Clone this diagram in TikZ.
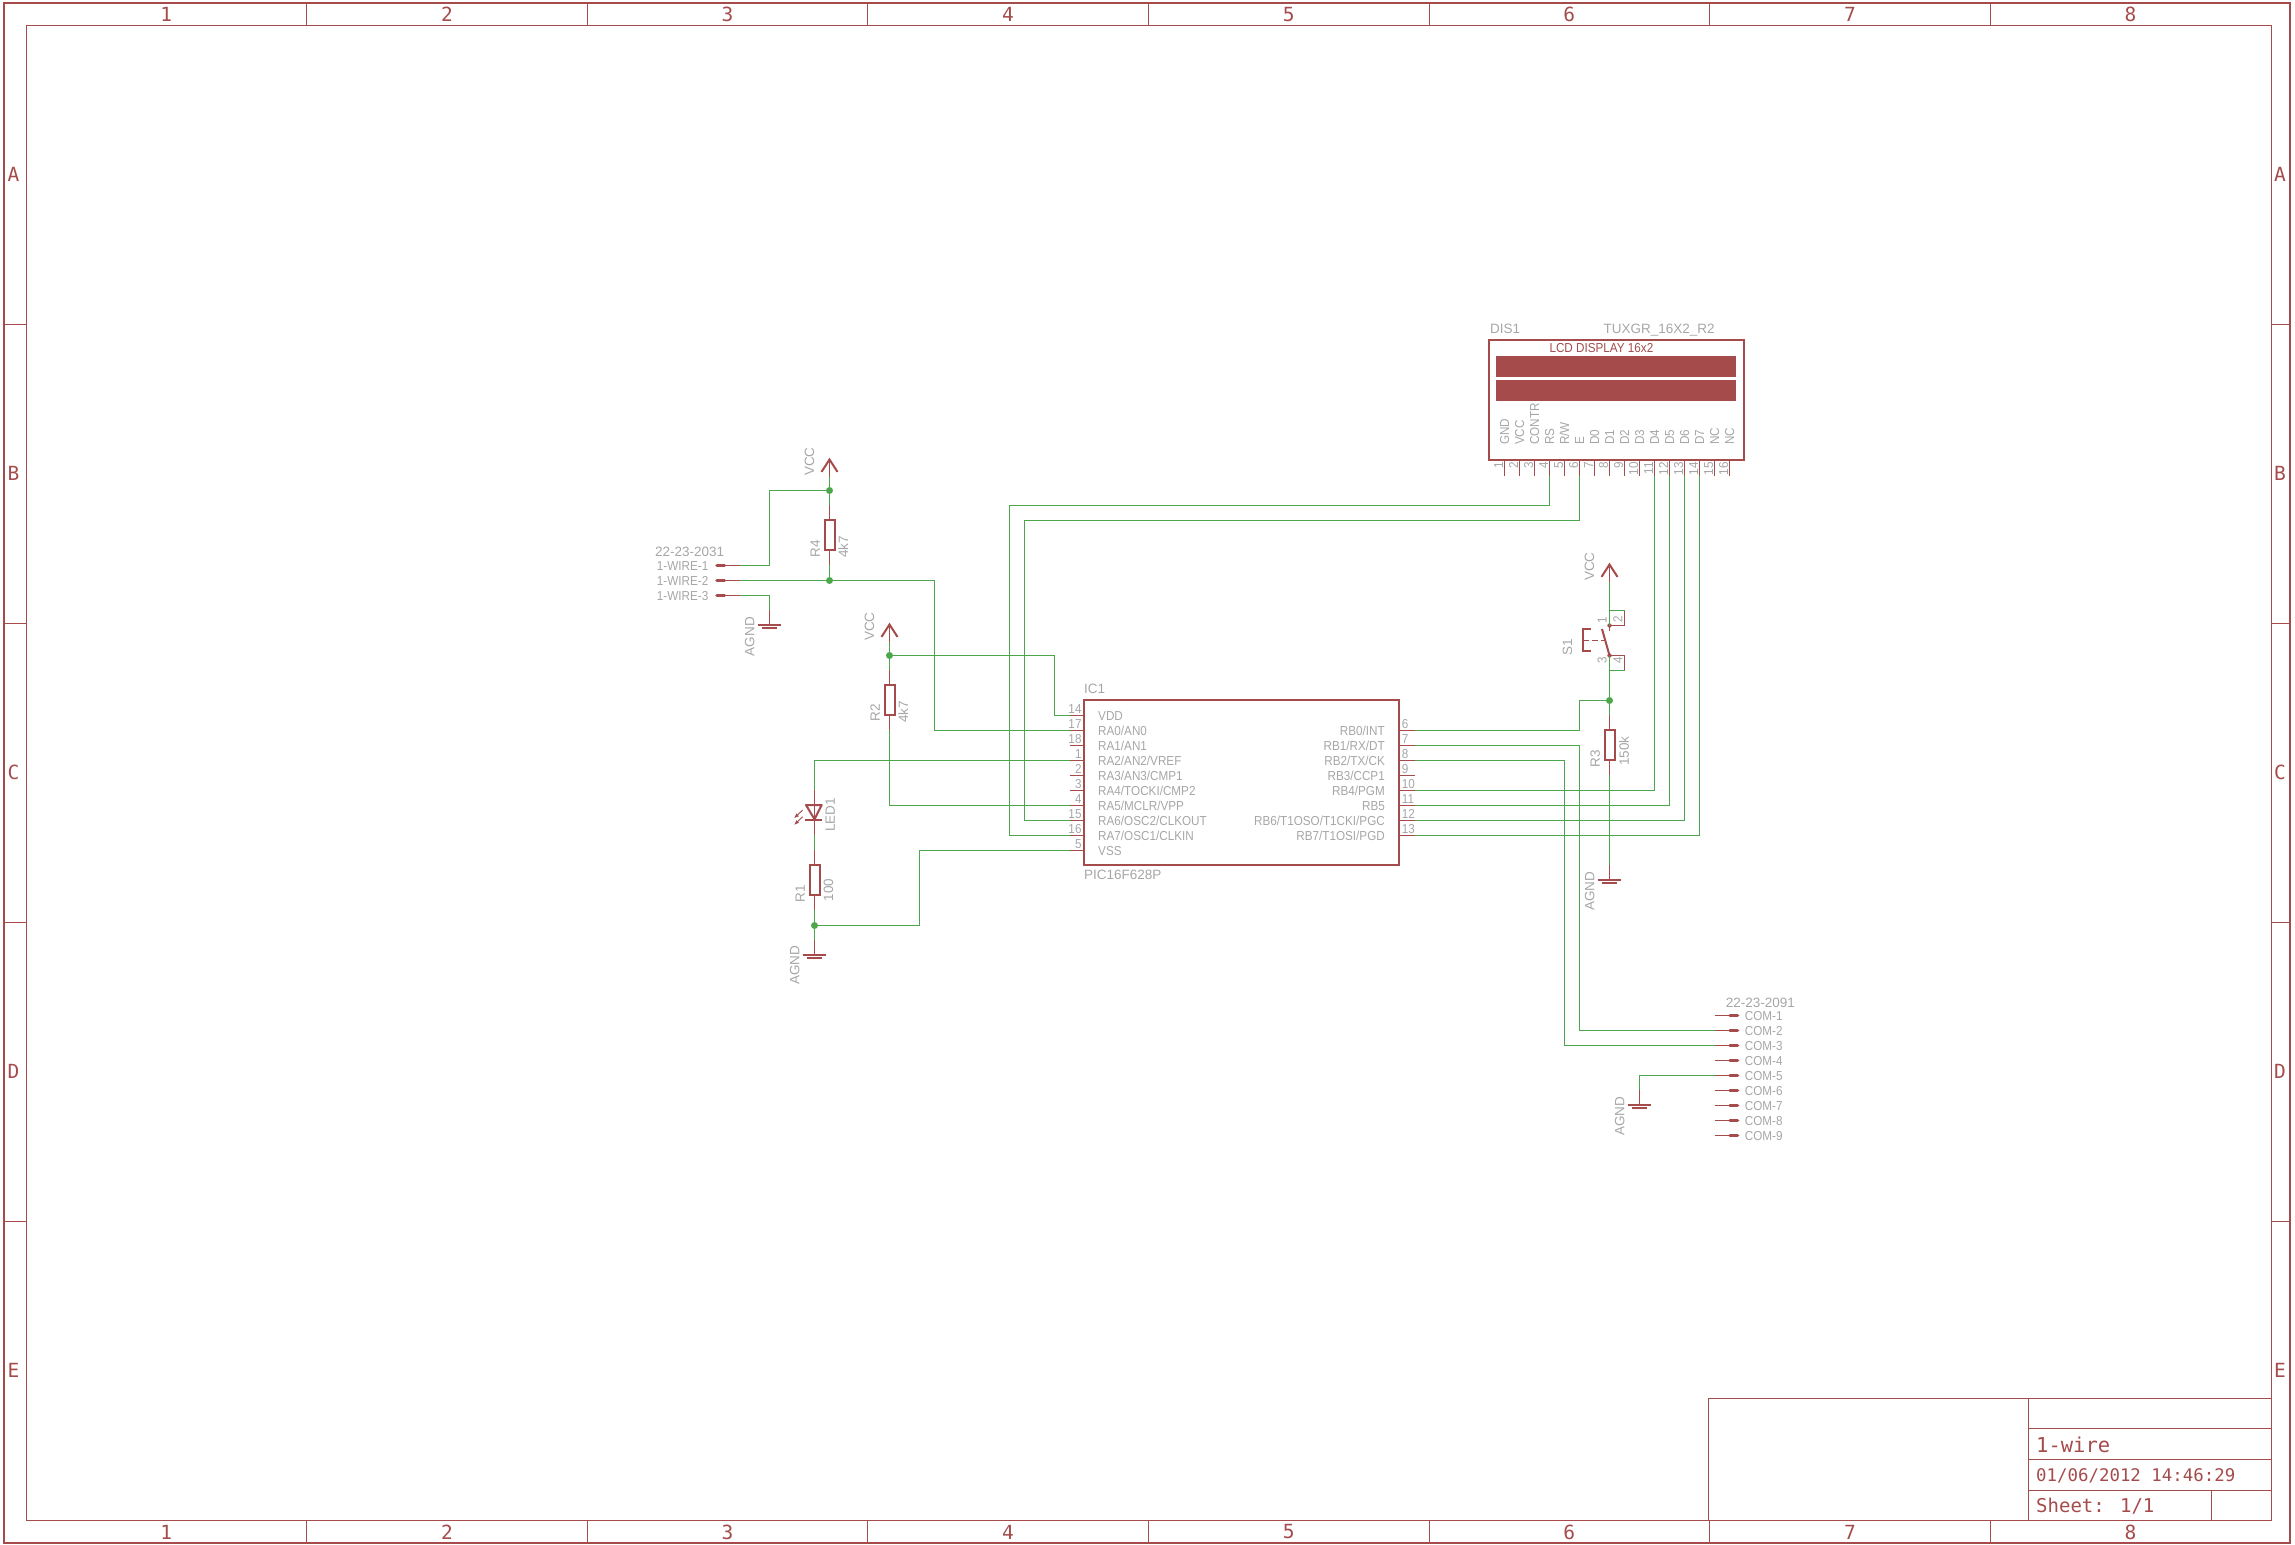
\documentclass[tikz,border=0pt]{standalone}
\usepackage{fontspec}
\setmainfont{Liberation Sans}
\newfontfamily\framefont{DejaVu Sans Mono}
\newfontfamily\pinfont[FakeStretch=0.9]{Liberation Sans}
\usetikzlibrary{positioning,arrows.meta,calc}
\definecolor{schred}{HTML}{A54B4B}
\definecolor{schgreen}{HTML}{4CA64C}
\definecolor{schgray}{HTML}{A6A6A6}
\tikzset{
  wire/.style={draw=schgreen,line width=1pt},
  lead/.style={draw=schred,line width=1pt},
  body/.style={draw=schred,line width=2pt},
  pad/.style={draw=schred,line width=3.6pt,line cap=round},
  frameline/.style={draw=schred,line width=1pt},
  junction/.style={circle,fill=schgreen,inner sep=0pt,minimum size=7pt},
  resbox/.style={draw=schred,line width=2pt,fill=white,inner sep=0pt,minimum width=10pt,minimum height=30pt},
  pinname/.style={font=\pinfont\fontsize{13}{13}\selectfont,text=schgray,inner sep=0pt,text height=9.3pt,text depth=0pt},
  devname/.style={font=\fontsize{13.5}{14}\selectfont,text=schgray,inner sep=0pt,text height=9.7pt,text depth=0pt},
  framemark/.style={font=\framefont\fontsize{19.5}{20}\selectfont,text=schred,inner sep=0pt},
  titletext/.style={font=\framefont\fontsize{17.4}{18}\selectfont,text=schred,inner sep=0pt,anchor=west},
}

\begin{document}
\begin{tikzpicture}[x=1pt,y=-1pt]
            \useasboundingbox (0,0) rectangle (2295,1545);
            % sheet frame
            \draw[schred,line width=2pt] (4,3) rectangle (2290,1543);
            \draw[frameline] (26.5,25.5) rectangle (2271.5,1520.5);
            \foreach \i in {1,...,7} {
              \draw[frameline] ({floor(26+280.6*\i)+0.5},3) -- ({floor(26+280.6*\i)+0.5},25.5);
              \draw[frameline] ({floor(26+280.6*\i)+0.5},1520.5) -- ({floor(26+280.6*\i)+0.5},1543);
            }
            \foreach \i in {1,...,4} {
              \draw[frameline] (4,{25.5+299*\i}) -- (26.5,{25.5+299*\i});
              \draw[frameline] (2271.5,{25.5+299*\i}) -- (2290,{25.5+299*\i});
            }
            \foreach \i in {1,...,8} {
              \node[framemark] (coltop\i) at ({26+280.6*(\i-0.5)},14.5) {\i};
              \node[framemark] (colbot\i) at ({26+280.6*(\i-0.5)},1532) {\i};
            }
            \foreach \c/\i in {A/1,B/2,C/3,D/4,E/5} {
              \node[framemark] (rowl\c) at (13.5,{25+299*(\i-0.5)}) {\c};
              \node[framemark] (rowr\c) at (2280,{25+299*(\i-0.5)}) {\c};
            }
            % title block
            \draw[frameline] (1708.5,1520.5) -- (1708.5,1398.5) -- (2271.5,1398.5);
            \draw[frameline] (2028.5,1398.5) -- (2028.5,1520.5);
            \draw[frameline] (2028.5,1428.5) -- (2271.5,1428.5);
            \draw[frameline] (2028.5,1459.5) -- (2271.5,1459.5);
            \draw[frameline] (2028.5,1490.5) -- (2271.5,1490.5);
            \draw[frameline] (2211.5,1490.5) -- (2211.5,1520.5);
            \node[titletext,font=\framefont\fontsize{20.5}{21}\selectfont] (sheetname) at (2036,1445) {1-wire};
            \node[titletext] (sheetdate) at (2036,1475.5) {01/06/2012 14:46:29};
            \node[titletext,font=\framefont\fontsize{19}{20}\selectfont] (sheetnum) at (2036,1506) {Sheet: 1/1};

            % IC1
            \node[draw=schred,line width=2pt,minimum width=315pt,minimum height=165pt,inner sep=0pt] (ic1) at (1241.5,782.5) {};
            \node[devname,anchor=west] (ic1name) at (1084,688.3) {IC1};
            \node[devname,anchor=west] (ic1val) at (1084,875) {PIC16F628P};
            \foreach \n/\y/\lab in {14/715.5/{VDD},17/730.5/{RA0/AN0},18/745.5/{RA1/AN1},1/760.5/{RA2/AN2/VREF},
                                    2/775.5/{RA3/AN3/CMP1},3/790.5/{RA4/TOCKI/CMP2},4/805.5/{RA5/MCLR/VPP},
                                    15/820.5/{RA6/OSC2/CLKOUT},16/835.5/{RA7/OSC1/CLKIN},5/850.5/{VSS}} {
              \coordinate (p\n) at (1069.5,\y);
              \draw[lead] (p\n) -- (ic1.west |- p\n);
              \node[pinname,anchor=west] (lab\n) at (1098,\y+0.5) {\lab};
              \node[pinname,anchor=east] (num\n) at (1081.7,\y-6.5) {\n};
            }
            \foreach \n/\y/\lab in {6/730.5/{RB0/INT},7/745.5/{RB1/RX/DT},8/760.5/{RB2/TX/CK},9/775.5/{RB3/CCP1},
                                    10/790.5/{RB4/PGM},11/805.5/{RB5},12/820.5/{RB6/T1OSO/T1CKI/PGC},13/835.5/{RB7/T1OSI/PGD}} {
              \coordinate (p\n) at (1415,\y);
              \draw[lead] (ic1.east |- p\n) -- (p\n);
              \node[pinname,anchor=east] (lab\n) at (1385,\y+0.5) {\lab};
              \node[pinname,anchor=west] (num\n) at (1401.7,\y-6.5) {\n};
            }

            % LCD
            \node[draw=schred,line width=2pt,minimum width=255pt,minimum height=120pt,inner sep=0pt] (dis1) at (1616.5,400) {};
            \node[fill=schred,minimum width=240pt,minimum height=21pt,inner sep=0pt] (row1) at (1616,366.5) {};
            \node[fill=schred,minimum width=240pt,minimum height=21pt,inner sep=0pt] (row2) at (1616,390.5) {};
            \node[pinname,text=schred,anchor=west] (lcdtitle) at (1549.3,347.7) {LCD DISPLAY 16x2};
            \node[devname,anchor=west] (dis1name) at (1490,328.3) {DIS1};
            \node[devname,anchor=west] (dis1val) at (1603.3,328.3) {TUXGR\_16X2\_R2};
            \foreach \n/\lab in {1/GND,2/VCC,3/CONTR,4/RS,5/{R/W},6/E,7/D0,8/D1,9/D2,10/D3,11/D4,12/D5,13/D6,14/D7,15/NC,16/NC} {
              \coordinate (d\n) at ({1504.5+15*(\n-1)},475.7);
              \draw[lead] (d\n) -- (d\n |- dis1.south);
              \node[pinname,rotate=90,anchor=west] (dlab\n) at ({1504.5+15*(\n-1)},445) {\lab};
              \node[pinname,rotate=90,anchor=east] (dnum\n) at ({1498.5+15*(\n-1)},462) {\n};
            }

            % resistors
            \foreach \r/\x/\y in {r4/829.5/535,r2/889.5/700,r1/814.5/880,r3/1609.5/745} {
              \node[resbox] (\r) at (\x,\y) {};
              \coordinate (\r t) at (\x,\y-30);
              \coordinate (\r b) at (\x,\y+30);
              \draw[lead] (\r t) -- (\r.north);
              \draw[lead] (\r.south) -- (\r b);
            }
            \node[devname,rotate=90] (r4name) at (815,549) {R4};
            \node[devname,rotate=90] (r4val) at (843.3,546.7) {4k7};
            \node[devname,rotate=90] (r2name) at (875,713) {R2};
            \node[devname,rotate=90] (r2val) at (903.3,711.7) {4k7};
            \node[devname,rotate=90] (r1name) at (800,894) {R1};
            \node[devname,rotate=90] (r1val) at (828.3,890) {100};
            \node[devname,rotate=90] (r3name) at (1595,759) {R3};
            \node[devname,rotate=90] (r3val) at (1624,751) {150k};

            % supply symbols
            \foreach \v/\x/\y in {v4/829.5/459.5,v2/889.5/624.5,v3/1609.5/564.5} {
              \coordinate (\v) at (\x,\y);
              \coordinate (\v b) at (\x,\y+17);
              \draw[lead] (\v) -- (\v b);
              \draw[body] (\x-8,\y+12.4) -- (\v) -- (\x+8,\y+12.4);
              \node[devname,rotate=90] (\v name) at (\x-20.3,\y+2) {VCC};
            }
            \foreach \g/\x/\y/\ly in {g1/769.5/625/636.5,g2/814.5/955/965,g3/1609.5/880/891,g4/1639.5/1105/1116} {
              \coordinate (\g) at (\x,\y);
              \coordinate (\g t) at (\x,\y-15);
              \draw[lead] (\g t) -- (\g);
              \draw[body] (\x-11.8,\y) -- (\x+11.8,\y);
              \draw[body] (\x-7.2,\y+3) -- (\x+7.2,\y+3);
              \node[devname,rotate=90] (\g name) at (\x-20,\ly) {AGND};
            }

            % connectors
            \node[devname,anchor=west] (x1val) at (655,551.7) {22-23-2031};
            \foreach \n/\y in {1/565.5,2/580.5,3/595.5} {
              \coordinate (w\n) at (739.5,\y);
              \draw[lead] (w\n) -- (722,\y);
              \draw[pad] (717,\y) -- (724.5,\y);
              \node[pinname,anchor=west] (wlab\n) at (656.7,\y+0.5) {1-WIRE-\n};
            }
            \node[devname,anchor=west] (x2val) at (1725.7,1002.3) {22-23-2091};
            \foreach \n in {1,...,9} {
              \coordinate (c\n) at (1714.5,{1000.5+15*\n});
              \draw[lead] (c\n) -- ++(20,0);
              \draw[pad] (1730,{1000.5+15*\n}) -- (1737.5,{1000.5+15*\n});
              \node[pinname,anchor=west] (clab\n) at (1744.7,{1001+15*\n}) {COM-\n};
            }

            % LED
            \coordinate (leda) at (814.5,790);
            \coordinate (ledc) at (814.5,835);
            \draw[lead] (leda) -- (ledc);
            \draw[body,line join=round] (806,805) -- (821.7,805) -- (814.5,819.3) -- cycle;
            \draw[body] (805,820) -- (822.3,820);
            \draw[lead,line width=0.9pt,-{Latex[length=5pt,width=4pt]}] (802.7,810) -- (794,818.3);
            \draw[lead,line width=0.9pt,-{Latex[length=5pt,width=4pt]}] (802.7,816.7) -- (794,825);
            \node[devname,rotate=90] (ledname) at (830,815) {LED1};

            % switch
            \coordinate (s1) at (1609.5,625.5);
            \coordinate (s3) at (1609.5,655.5);
            \coordinate (s2t) at (1609.5,610.5);
            \coordinate (s2c) at (1624.5,610.5);
            \coordinate (s4c) at (1624.5,670.5);
            \coordinate (s4b) at (1609.5,670.5);
            \draw[lead] (s2c) -- (1624.5,625.5) -- (s1) -- ++(0,5);
            \draw[lead] (s3) -- (1624.5,655.5) -- (s4c);
            \fill[schred] (s1) circle (2.2pt);
            \fill[schred] (s3) circle (2.2pt);
            \draw[body] (1602,629) -- (s3);
            \draw[body] (1590.7,629) -- (1582.7,629) -- (1582.7,650.7) -- (1590.7,650.7);
            \draw[lead,dashed,dash pattern=on 6pt off 3pt] (1583.3,640.5) -- (1605,640.5);
            \node[devname,rotate=90] (s1name) at (1567.3,647) {S1};
            \node[pinname,rotate=90] (s1p1) at (1602,620.7) {1};
            \node[pinname,rotate=90] (s1p2) at (1617.7,619) {2};
            \node[pinname,rotate=90] (s1p3) at (1602,660) {3};
            \node[pinname,rotate=90] (s1p4) at (1617.7,660) {4};

            % nets
            \node[junction] (j4) at (829.5,490.5) {};
            \node[junction] (j5) at (829.5,580.5) {};
            \node[junction] (j2) at (889.5,655.5) {};
            \node[junction] (j1) at (814.5,925.5) {};
            \node[junction] (j3) at (1609.5,700.5) {};
            \coordinate (t1) at (769.5,565.5);
            \coordinate (t2) at (934.5,730.5);
            \coordinate (k14) at (1054.5,715.5);
            \coordinate (k5) at (919.5,925.5);
            \coordinate (k15) at (1024.5,520.5);
            \coordinate (k16) at (1009.5,505.5);
            \coordinate (k6) at (1579.5,700.5);
            \coordinate (k7) at (1579.5,1030.5);
            \coordinate (k8) at (1564.5,1045.5);
            \draw[wire] (v4b) -- (j4) -- (r4t);
            \draw[wire] (j4) -| (t1) -- (w1);
            \draw[wire] (r4b) -- (j5);
            \draw[wire] (w2) -- (j5) -| (t2) -- (p17);
            \draw[wire] (w3) -| (g1t);
            \draw[wire] (v2b) -- (j2) -- (r2t);
            \draw[wire] (j2) -| (k14) -- (p14);
            \draw[wire] (r2b) |- (p4);
            \draw[wire] (p1) -| (leda);
            \draw[wire] (ledc) -- (r1t);
            \draw[wire] (r1b) -- (j1) -- (g2t);
            \draw[wire] (p5) -| (k5) -- (j1);
            \draw[wire] (d4) |- (k16) |- (p16);
            \draw[wire] (d6) |- (k15) |- (p15);
            \draw[wire] (d11) |- (p10);
            \draw[wire] (d12) |- (p11);
            \draw[wire] (d13) |- (p12);
            \draw[wire] (d14) |- (p13);
            \draw[wire] (p6) -| (k6) -- (j3);
            \draw[wire] (p7) -| (k7) -- (c2);
            \draw[wire] (p8) -| (k8) -- (c3);
            \draw[wire] (c5) -| (g4t);
            \draw[wire] (v3b) -- (s1);
            \draw[wire] (s2t) -- (s2c);
            \draw[wire] (s3) -- (j3) -- (r3t);
            \draw[wire] (s4b) -- (s4c);
            \draw[wire] (r3b) -- (g3t);
\end{tikzpicture}
\end{document}
